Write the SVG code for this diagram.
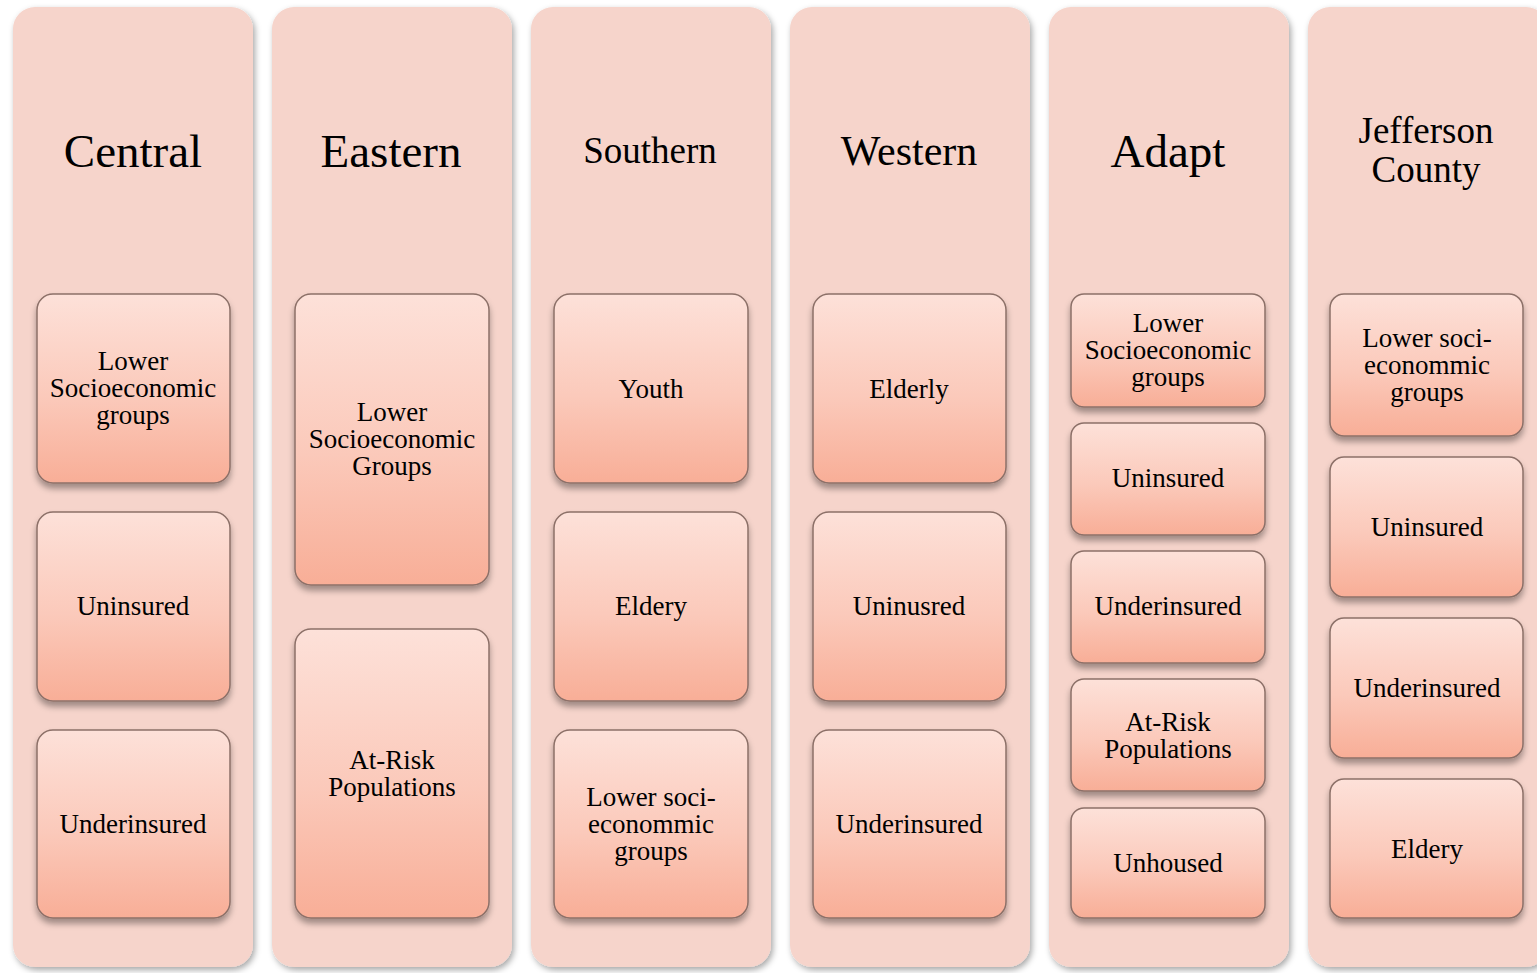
<svg xmlns="http://www.w3.org/2000/svg" width="1537" height="973" viewBox="0 0 1537 973">
<defs>
<linearGradient id="g" x1="0" y1="0" x2="0" y2="1">
<stop offset="0" stop-color="#FDE1D9"/>
<stop offset="0.55" stop-color="#FBC9BA"/>
<stop offset="1" stop-color="#F8AE97"/>
</linearGradient>
<filter id="colsh" x="-10%" y="-5%" width="120%" height="110%">
<feDropShadow dx="2" dy="3" stdDeviation="3" flood-color="#000" flood-opacity="0.35"/>
</filter>
<filter id="boxsh" x="-10%" y="-10%" width="120%" height="130%">
<feDropShadow dx="0" dy="5" stdDeviation="3" flood-color="#000" flood-opacity="0.35"/>
</filter>
</defs>
<style>
.col{fill:#F6D4CB;filter:url(#colsh)}
.box{fill:url(#g);stroke:#8C7068;stroke-width:1.5;filter:url(#boxsh)}
.h{font-family:"Liberation Serif","Times New Roman",serif;fill:#000;text-anchor:middle}
.t{font-family:"Liberation Serif","Times New Roman",serif;font-size:27px;fill:#000;text-anchor:middle}
</style>
<rect width="1537" height="973" fill="#fff"/>

<g id="col-central">
<rect class="col" x="13" y="7" width="240" height="960" rx="22"/>
<text class="h" x="133" y="167" font-size="47">Central</text>
<g id="central-1"><rect class="box" x="37" y="294" width="193" height="189" rx="16"/>
<text class="t" x="133"><tspan x="133" y="370">Lower</tspan><tspan x="133" y="397">Socioeconomic</tspan><tspan x="133" y="424">groups</tspan></text></g>
<g id="central-2"><rect class="box" x="37" y="512" width="193" height="189" rx="16"/>
<text class="t" x="133" y="615">Uninsured</text></g>
<g id="central-3"><rect class="box" x="37" y="730" width="193" height="188" rx="16"/>
<text class="t" x="133" y="833">Underinsured</text></g>
</g>

<g id="col-eastern">
<rect class="col" x="272" y="7" width="240" height="960" rx="22"/>
<text class="h" x="391" y="167" font-size="47">Eastern</text>
<g id="eastern-1"><rect class="box" x="295" y="294" width="194" height="291" rx="16"/>
<text class="t"><tspan x="392" y="421">Lower</tspan><tspan x="392" y="448">Socioeconomic</tspan><tspan x="392" y="475">Groups</tspan></text></g>
<g id="eastern-2"><rect class="box" x="295" y="629" width="194" height="289" rx="16"/>
<text class="t"><tspan x="392" y="769">At-Risk</tspan><tspan x="392" y="796">Populations</tspan></text></g>
</g>

<g id="col-southern">
<rect class="col" x="531" y="7" width="240" height="960" rx="22"/>
<text class="h" x="650" y="163" font-size="37">Southern</text>
<g id="southern-1"><rect class="box" x="554" y="294" width="194" height="189" rx="16"/>
<text class="t" x="651" y="398">Youth</text></g>
<g id="southern-2"><rect class="box" x="554" y="512" width="194" height="189" rx="16"/>
<text class="t" x="651" y="615">Eldery</text></g>
<g id="southern-3"><rect class="box" x="554" y="730" width="194" height="188" rx="16"/>
<text class="t"><tspan x="651" y="806">Lower soci-</tspan><tspan x="651" y="833">econommic</tspan><tspan x="651" y="860">groups</tspan></text></g>
</g>

<g id="col-western">
<rect class="col" x="790" y="7" width="240" height="960" rx="22"/>
<text class="h" x="909" y="165" font-size="42">Western</text>
<g id="western-1"><rect class="box" x="813" y="294" width="193" height="189" rx="16"/>
<text class="t" x="909" y="398">Elderly</text></g>
<g id="western-2"><rect class="box" x="813" y="512" width="193" height="189" rx="16"/>
<text class="t" x="909" y="615">Uninusred</text></g>
<g id="western-3"><rect class="box" x="813" y="730" width="193" height="188" rx="16"/>
<text class="t" x="909" y="833">Underinsured</text></g>
</g>

<g id="col-adapt">
<rect class="col" x="1049" y="7" width="240" height="960" rx="22"/>
<text class="h" x="1168" y="167" font-size="47">Adapt</text>
<g id="adapt-1"><rect class="box" x="1071" y="294" width="194" height="113" rx="13"/>
<text class="t"><tspan x="1168" y="332">Lower</tspan><tspan x="1168" y="359">Socioeconomic</tspan><tspan x="1168" y="386">groups</tspan></text></g>
<g id="adapt-2"><rect class="box" x="1071" y="423" width="194" height="112" rx="13"/>
<text class="t" x="1168" y="487">Uninsured</text></g>
<g id="adapt-3"><rect class="box" x="1071" y="551" width="194" height="112" rx="13"/>
<text class="t" x="1168" y="615">Underinsured</text></g>
<g id="adapt-4"><rect class="box" x="1071" y="679" width="194" height="112" rx="13"/>
<text class="t"><tspan x="1168" y="731">At-Risk</tspan><tspan x="1168" y="758">Populations</tspan></text></g>
<g id="adapt-5"><rect class="box" x="1071" y="808" width="194" height="110" rx="13"/>
<text class="t" x="1168" y="872">Unhoused</text></g>
</g>

<g id="col-jefferson">
<rect class="col" x="1308" y="7" width="240" height="960" rx="22"/>
<text class="h" font-size="37"><tspan x="1426" y="143">Jefferson</tspan><tspan x="1426" y="182">County</tspan></text>
<g id="jefferson-1"><rect class="box" x="1330" y="294" width="193" height="142" rx="14"/>
<text class="t"><tspan x="1427" y="347">Lower soci-</tspan><tspan x="1427" y="374">econommic</tspan><tspan x="1427" y="401">groups</tspan></text></g>
<g id="jefferson-2"><rect class="box" x="1330" y="457" width="193" height="140" rx="14"/>
<text class="t" x="1427" y="536">Uninsured</text></g>
<g id="jefferson-3"><rect class="box" x="1330" y="618" width="193" height="140" rx="14"/>
<text class="t" x="1427" y="697">Underinsured</text></g>
<g id="jefferson-4"><rect class="box" x="1330" y="779" width="193" height="139" rx="14"/>
<text class="t" x="1427" y="858">Eldery</text></g>
</g>

<g id="connectors"></g>
</svg>
